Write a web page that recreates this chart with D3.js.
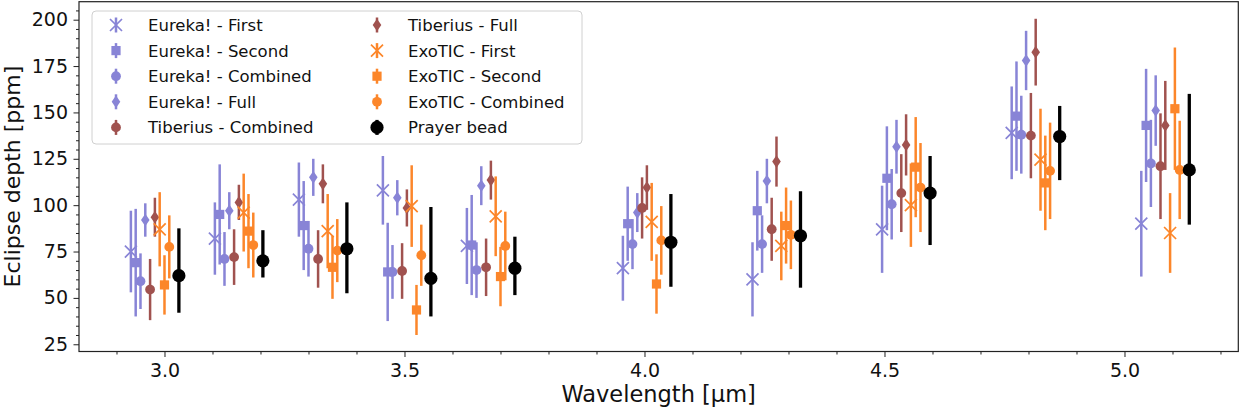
<!DOCTYPE html>
<html>
<head>
<meta charset="utf-8">
<script src="https://cdn.jsdelivr.net/npm/d3@7"></script>
<style>
  body { margin: 0; background: #fff; }
  svg { display: block; font-family: "DejaVu Sans", sans-serif; }
</style>
</head>
<body>
<svg id="chart" width="1245" height="413"></svg>
<script>
// --- Data ---
const binWavelength = [2.98, 3.155, 3.33, 3.505, 3.68, 4.005, 4.275, 4.545, 4.815, 5.085];

const eurekaFirst       = [75, 82, 103, 108, 78, 66, 60, 87, 139, 90];
const eurekaFirstErr    = [22, 19.5, 20, 18.5, 20.5, 17.5, 20, 23.5, 25, 28.5];
const eurekaSecond      = [69, 95, 89, 64, 78.5, 90, 97, 114.5, 148, 143];
const eurekaSecondErr   = [29, 27, 24, 26.5, 27, 20, 21.5, 28, 29.5, 30.5];
const eurekaCombined    = [59, 71, 76.5, 64, 65, 79, 79, 100.5, 138, 122.5];
const eurekaCombinedErr = [15, 14.5, 15, 14.5, 15, 13.5, 15.5, 19, 21, 23.5];
const eurekaFull        = [92, 97, 115, 104, 110.5, 96, 113, 131.5, 178, 151];
const eurekaFullErr     = [9, 10, 10, 9.5, 10.5, 10.5, 12, 14.5, 16, 19];
const tiberiusCombined    = [54.5, 72, 71, 64.5, 66.5, 98.5, 87, 106.5, 137.5, 121];
const tiberiusCombinedErr = [16.5, 15, 15.5, 15, 15.5, 16.5, 17, 21, 23, 28.5];
const tiberiusFull      = [93.5, 101.5, 111.5, 98.5, 113.5, 109.5, 123.5, 132.5, 182.5, 143];
const tiberiusFullErr   = [10.5, 9.5, 10.5, 10, 10.5, 12, 13.5, 16.5, 18, 24];
const exoticFirst       = [87, 96, 86, 99.5, 94, 91, 78, 100, 124.5, 85];
const exoticFirstErr    = [20, 21, 20, 22, 21.5, 21, 18.5, 22.5, 27.5, 21.5];
const exoticSecond      = [57, 86, 66.5, 43.5, 61.5, 57.5, 89, 120.5, 112, 152];
const exoticSecondErr   = [16, 20, 17, 13.5, 16, 16, 20.5, 27, 25.5, 33];
const exoticCombined    = [77.5, 78.5, 75.5, 73, 78, 81, 84, 109.5, 118.5, 119];
const exoticCombinedErr = [17, 17.5, 17, 16.5, 18.5, 18.5, 18.5, 24, 26, 26.5];
const prayerBead        = [62, 70, 76.5, 60.5, 66, 80, 83.5, 106.5, 137, 119];
const prayerBeadErrLo   = [20, 9, 24, 20.5, 14.5, 24, 28, 28, 23.5, 29.5];
const prayerBeadErrHi   = [25.5, 16.5, 25, 38.5, 17, 26, 24, 20, 16.5, 41];

const xTickValues = [3.0, 3.5, 4.0, 4.5, 5.0];
const yTickValues = [25, 50, 75, 100, 125, 150, 175, 200];

// --- Styling per series ---
const lavender = "#8884d6", brown = "#a0524f", orange = "#fc862a";
const series = [
  { name: "Eureka! - First",     v: eurekaFirst,      lo: eurekaFirstErr,      hi: eurekaFirstErr,      color: lavender, marker: "x", dx: -0.05 },
  { name: "Eureka! - Second",    v: eurekaSecond,     lo: eurekaSecondErr,     hi: eurekaSecondErr,     color: lavender, marker: "s", dx: -0.04 },
  { name: "Eureka! - Combined",  v: eurekaCombined,   lo: eurekaCombinedErr,   hi: eurekaCombinedErr,   color: lavender, marker: "o", dx: -0.03 },
  { name: "Eureka! - Full",      v: eurekaFull,       lo: eurekaFullErr,       hi: eurekaFullErr,       color: lavender, marker: "d", dx: -0.02 },
  { name: "Tiberius - Combined", v: tiberiusCombined, lo: tiberiusCombinedErr, hi: tiberiusCombinedErr, color: brown,    marker: "o", dx: -0.01 },
  { name: "Tiberius - Full",     v: tiberiusFull,     lo: tiberiusFullErr,     hi: tiberiusFullErr,     color: brown,    marker: "d", dx: 0 },
  { name: "ExoTIC - First",      v: exoticFirst,      lo: exoticFirstErr,      hi: exoticFirstErr,      color: orange,   marker: "x", dx: 0.01 },
  { name: "ExoTIC - Second",     v: exoticSecond,     lo: exoticSecondErr,     hi: exoticSecondErr,     color: orange,   marker: "s", dx: 0.02 },
  { name: "ExoTIC - Combined",   v: exoticCombined,   lo: exoticCombinedErr,   hi: exoticCombinedErr,   color: orange,   marker: "o", dx: 0.03 },
  { name: "Prayer bead",         v: prayerBead,       lo: prayerBeadErrLo,     hi: prayerBeadErrHi,     color: "#000",   marker: "O", dx: 0.05 }
];

// --- Layout ---
const W = 1245, H = 413;
const margin = { top: 1.7, right: 6.7, bottom: 61.5, left: 79 };
const svg = d3.select("#chart");

const x = d3.scaleLinear().domain([2.8219, 5.2371]).range([margin.left, W - margin.right]);
const y = d3.scaleLinear().domain([21.1, 209.7]).range([H - margin.bottom, margin.top]);

// Minor ticks
const xMinor = d3.range(29, 53).map(d => d / 10).filter(d => !xTickValues.some(t => Math.abs(t - d) < 1e-6));
const yMinor = d3.range(25, 210, 5).filter(d => d % 25 !== 0);

const xAxisG = svg.append("g").attr("transform", `translate(0,${H - margin.bottom})`);
xAxisG.append("g").call(d3.axisBottom(x).tickValues(xMinor).tickSize(3).tickFormat(""));
xAxisG.append("g").call(d3.axisBottom(x).tickValues(xTickValues).tickSize(5.5).tickPadding(6.5).tickFormat(d3.format(".1f")));

const yAxisG = svg.append("g").attr("transform", `translate(${margin.left},0)`);
yAxisG.append("g").call(d3.axisLeft(y).tickValues(yMinor).tickSize(3).tickFormat(""));
yAxisG.append("g").call(d3.axisLeft(y).tickValues(yTickValues).tickSize(5.5).tickPadding(5.5));

svg.selectAll(".domain").remove();
svg.selectAll(".tick line").attr("stroke", "#222").attr("stroke-width", 1);
svg.selectAll(".tick text").attr("font-size", 19).attr("fill", "#111").attr("font-family", "DejaVu Sans");

// Frame
svg.append("rect")
  .attr("x", margin.left).attr("y", margin.top)
  .attr("width", W - margin.left - margin.right)
  .attr("height", H - margin.top - margin.bottom)
  .attr("fill", "none").attr("stroke", "#222").attr("stroke-width", 1.2);

// Axis labels
svg.append("text")
  .attr("x", (margin.left + W - margin.right) / 2).attr("y", 402)
  .attr("text-anchor", "middle").attr("font-size", 22.5).attr("fill", "#111")
  .text("Wavelength [μm]");
svg.append("text")
  .attr("transform", `translate(19.5,${(margin.top + H - margin.bottom) / 2}) rotate(-90)`)
  .attr("text-anchor", "middle").attr("font-size", 22).attr("fill", "#111")
  .text("Eclipse depth [ppm]");

// Marker drawing
function drawMarker(g, type, color) {
  if (type === "x") {
    g.append("path").attr("d", "M-6,-6L6,6M-6,6L6,-6")
      .attr("stroke", color).attr("stroke-width", 1.7).attr("fill", "none");
  } else if (type === "s") {
    g.append("rect").attr("x", -4.6).attr("y", -4.6).attr("width", 9.2).attr("height", 9.2).attr("fill", color);
  } else if (type === "o") {
    g.append("circle").attr("r", 4.9).attr("fill", color);
  } else if (type === "d") {
    g.append("path").attr("d", "M0,-6.3L4.3,0L0,6.3L-4.3,0Z").attr("fill", color);
  } else if (type === "O") {
    g.append("circle").attr("r", 6.6).attr("fill", color);
  }
}

// Data marks
const plot = svg.append("g");
series.forEach(s => {
  const lw = s.marker === "O" ? 3.3 : 2.5;
  const pts = binWavelength.map((w, i) => ({ wl: w + s.dx, v: s.v[i], lo: s.lo[i], hi: s.hi[i] }));
  const g = plot.append("g");
  g.selectAll("line").data(pts).join("line")
    .attr("x1", d => x(d.wl)).attr("x2", d => x(d.wl))
    .attr("y1", d => y(d.v - d.lo)).attr("y2", d => y(d.v + d.hi))
    .attr("stroke", s.color).attr("stroke-width", lw);
  g.selectAll("g.mk").data(pts).join("g")
    .attr("class", "mk")
    .attr("transform", d => `translate(${x(d.wl)},${y(d.v)})`)
    .each(function () { drawMarker(d3.select(this), s.marker, s.color); });
});

// Legend
const legend = svg.append("g");
legend.append("rect")
  .attr("x", 92).attr("y", 11).attr("width", 490).attr("height", 133).attr("rx", 4)
  .attr("fill", "#fff").attr("fill-opacity", 0.8).attr("stroke", "#d0d0d0").attr("stroke-width", 1);

series.forEach((s, i) => {
  const col = Math.floor(i / 5), row = i % 5;
  const mx = col === 0 ? 116 : 377;
  const tx = col === 0 ? 148 : 408;
  const cy = 25 + row * 25.6;
  const item = legend.append("g");
  item.append("line").attr("x1", mx).attr("x2", mx).attr("y1", cy - 7.5).attr("y2", cy + 7.5)
    .attr("stroke", s.color).attr("stroke-width", s.marker === "O" ? 3.3 : 2.5);
  drawMarker(item.append("g").attr("transform", `translate(${mx},${cy})`), s.marker, s.color);
  item.append("text").attr("x", tx).attr("y", cy).attr("dy", "0.36em")
    .attr("font-size", 16.5).attr("fill", "#111").text(s.name);
});
</script>
</body>
</html>
